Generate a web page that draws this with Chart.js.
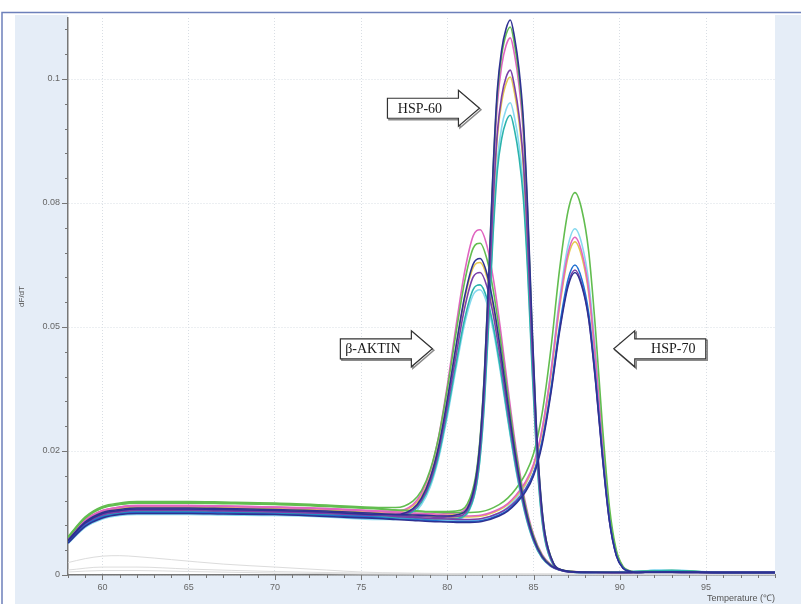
<!DOCTYPE html>
<html>
<head>
<meta charset="utf-8">
<script src="https://cdn.jsdelivr.net/npm/chart.js@4"></script>
<style>
  html, body { margin: 0; padding: 0; background: #fff; }
  canvas { display: block; }
</style>
</head>
<body>
<canvas id="meltChart" width="801" height="604"></canvas>
<script>
// temperatures (°C) sampled for each primer group
const actinT = [58, 59, 60, 61, 62, 63, 65, 67, 70, 73, 76, 77, 78, 78.5, 79, 79.5, 80, 80.5, 81, 81.5, 81.9, 82.3, 82.7, 83.1, 83.5, 84, 84.5, 85, 85.5, 86, 86.5, 87, 88, 90, 93, 96, 99];
const hsp60T = [58, 59, 60, 61, 62, 63, 65, 67, 70, 73, 76, 77, 78, 79, 79.5, 80, 80.5, 81.15, 81.65, 81.9, 82.15, 82.4, 82.65, 82.9, 83.15, 83.4, 83.65, 83.9, 84.15, 84.4, 84.65, 84.9, 85.15, 85.4, 85.65, 86.15, 86.65, 87.15, 88, 90, 93, 96, 99];
const hsp70T = [58, 59, 60, 61, 62, 63, 65, 67, 70, 73, 76, 77, 78, 79, 80, 81, 82, 83, 83.5, 84, 84.5, 85, 85.5, 86, 86.5, 87, 87.4, 87.8, 88.2, 88.6, 89, 89.4, 89.8, 90.2, 90.6, 91, 92, 94, 96, 99];
const ntcT1 = [58, 59, 60, 61, 62, 64, 67, 70, 73, 75, 80, 90, 99];
const ntcT2 = [58, 60, 62, 65, 70, 75, 85, 99];

// beta-actin wells (dF/dT)
const actinPink = [.0073, .0111, .0130, .0137, .0140, .0140, .0140, .0139, .0137, .0134, .0129, .0129, .0142, .0165, .0208, .0280, .0383, .0501, .0611, .0684, .0696, .0663, .0590, .0490, .0380, .0251, .0150, .0081, .0041, .0021, .0011, .0008, .0006, .0005, .0007, .0005, .0005];
const actinGreen = [.0077, .0117, .0138, .0145, .0148, .0148, .0148, .0147, .0145, .0141, .0136, .0136, .0149, .0170, .0211, .0279, .0376, .0487, .0591, .0659, .0669, .0636, .0566, .0470, .0364, .0241, .0144, .0078, .0039, .0020, .0011, .0008, .0006, .0006, .0008, .0005, .0005];
const actinNavy = [.0069, .0105, .0124, .0130, .0133, .0133, .0133, .0132, .0130, .0127, .0122, .0122, .0134, .0155, .0195, .0260, .0354, .0461, .0561, .0627, .0638, .0607, .0540, .0449, .0348, .0230, .0137, .0074, .0037, .0019, .0011, .0007, .0005, .0005, .0006, .0005, .0005];
const actinYellow = [.0072, .0109, .0128, .0135, .0138, .0138, .0138, .0137, .0135, .0132, .0127, .0127, .0139, .0159, .0198, .0262, .0354, .0459, .0556, .0620, .0630, .0600, .0533, .0443, .0343, .0227, .0136, .0074, .0037, .0019, .0011, .0007, .0006, .0005, .0006, .0005, .0005];
const actinPurple = [.0068, .0103, .0121, .0127, .0130, .0130, .0130, .0129, .0127, .0124, .0120, .0120, .0131, .0151, .0188, .0251, .0340, .0442, .0538, .0601, .0610, .0581, .0517, .0429, .0332, .0220, .0131, .0071, .0036, .0018, .0010, .0007, .0005, .0005, .0006, .0005, .0005];
const actinTeal = [.0066, .0100, .0118, .0124, .0127, .0127, .0127, .0126, .0124, .0121, .0117, .0117, .0128, .0147, .0183, .0242, .0328, .0425, .0516, .0576, .0585, .0557, .0495, .0411, .0318, .0211, .0126, .0068, .0034, .0018, .0010, .0007, .0005, .0006, .0009, .0005, .0005];
const actinCyan = [.0063, .0096, .0113, .0120, .0122, .0122, .0122, .0121, .0120, .0117, .0112, .0112, .0123, .0142, .0177, .0236, .0320, .0416, .0506, .0565, .0575, .0547, .0486, .0404, .0313, .0207, .0124, .0067, .0034, .0017, .0010, .0006, .0005, .0005, .0007, .0005, .0005];

// HSP-60 wells
const hsp60Navy = [.0070, .0107, .0126, .0132, .0135, .0135, .0135, .0134, .0132, .0129, .0124, .0122, .0121, .0120, .0119, .0119, .0121, .0134, .0194, .0271, .0406, .0603, .0818, .0979, .1059, .1101, .1119, .1083, .1021, .0922, .0744, .0515, .0309, .0168, .0086, .0024, .0010, .0007, .0006, .0005, .0006, .0005, .0005];
const hsp60Green = [.0075, .0115, .0135, .0142, .0145, .0145, .0145, .0144, .0142, .0138, .0133, .0131, .0130, .0128, .0128, .0128, .0129, .0143, .0201, .0277, .0409, .0602, .0813, .0970, .1048, .1089, .1105, .1069, .1007, .0909, .0733, .0508, .0305, .0166, .0086, .0024, .0010, .0007, .0006, .0006, .0009, .0005, .0005];
const hsp60Pink = [.0073, .0111, .0130, .0137, .0140, .0140, .0140, .0139, .0137, .0134, .0129, .0127, .0125, .0124, .0123, .0124, .0125, .0138, .0195, .0270, .0400, .0589, .0796, .0950, .1027, .1067, .1083, .1048, .0988, .0892, .0719, .0498, .0299, .0163, .0084, .0023, .0010, .0007, .0006, .0005, .0006, .0005, .0005];
const hsp60Purple = [.0069, .0104, .0123, .0129, .0132, .0132, .0132, .0131, .0129, .0126, .0121, .0120, .0118, .0117, .0116, .0117, .0118, .0130, .0184, .0254, .0376, .0554, .0748, .0893, .0965, .1003, .1018, .0984, .0928, .0837, .0675, .0468, .0281, .0153, .0079, .0022, .0009, .0006, .0005, .0005, .0006, .0005, .0005];
const hsp60Yellow = [.0071, .0108, .0127, .0134, .0137, .0137, .0137, .0136, .0134, .0131, .0126, .0124, .0123, .0121, .0121, .0121, .0122, .0134, .0187, .0256, .0376, .0550, .0741, .0883, .0953, .0990, .1004, .0971, .0915, .0826, .0666, .0461, .0277, .0151, .0078, .0022, .0009, .0007, .0006, .0005, .0007, .0005, .0005];
const hsp60Cyan = [.0065, .0099, .0116, .0123, .0125, .0125, .0125, .0124, .0123, .0119, .0115, .0113, .0112, .0111, .0110, .0110, .0112, .0123, .0173, .0239, .0353, .0519, .0701, .0836, .0903, .0938, .0952, .0921, .0868, .0783, .0632, .0438, .0263, .0143, .0074, .0020, .0009, .0006, .0005, .0006, .0010, .0005, .0005];
const hsp60Teal = [.0067, .0101, .0119, .0125, .0128, .0128, .0128, .0127, .0125, .0122, .0118, .0116, .0115, .0113, .0113, .0113, .0114, .0125, .0174, .0237, .0348, .0509, .0685, .0816, .0880, .0914, .0927, .0896, .0844, .0762, .0615, .0426, .0256, .0139, .0072, .0020, .0009, .0006, .0005, .0005, .0007, .0005, .0005];

// HSP-70 wells
const hsp70Green = [.0076, .0115, .0136, .0143, .0146, .0146, .0146, .0145, .0143, .0139, .0134, .0131, .0129, .0127, .0126, .0126, .0128, .0142, .0155, .0175, .0202, .0245, .0327, .0455, .0614, .0734, .0771, .0736, .0651, .0491, .0298, .0137, .0050, .0017, .0008, .0006, .0007, .0006, .0005, .0005];
const hsp70Cyan = [.0067, .0101, .0119, .0125, .0128, .0128, .0128, .0127, .0125, .0122, .0118, .0115, .0113, .0111, .0110, .0110, .0113, .0125, .0137, .0155, .0180, .0219, .0293, .0410, .0555, .0664, .0698, .0667, .0590, .0445, .0270, .0124, .0045, .0015, .0007, .0005, .0010, .0006, .0005, .0005];
const hsp70Pink = [.0072, .0110, .0129, .0136, .0139, .0139, .0139, .0138, .0136, .0133, .0128, .0125, .0123, .0121, .0120, .0119, .0121, .0133, .0144, .0162, .0186, .0224, .0295, .0407, .0545, .0649, .0681, .0650, .0574, .0433, .0262, .0121, .0044, .0015, .0008, .0006, .0006, .0005, .0005, .0005];
const hsp70Yellow = [.0071, .0107, .0126, .0133, .0136, .0136, .0136, .0135, .0133, .0130, .0125, .0122, .0120, .0118, .0117, .0117, .0119, .0131, .0142, .0159, .0182, .0220, .0290, .0401, .0538, .0641, .0672, .0641, .0567, .0427, .0259, .0119, .0043, .0015, .0007, .0005, .0006, .0005, .0005, .0005];
const hsp70Blue = [.0066, .0100, .0117, .0123, .0126, .0126, .0126, .0125, .0123, .0120, .0116, .0113, .0112, .0110, .0108, .0108, .0110, .0121, .0131, .0147, .0169, .0204, .0270, .0373, .0500, .0596, .0625, .0596, .0527, .0397, .0241, .0111, .0040, .0014, .0007, .0005, .0006, .0005, .0005, .0005];
const hsp70Purple = [.0068, .0103, .0122, .0128, .0131, .0131, .0131, .0130, .0128, .0125, .0121, .0118, .0116, .0114, .0113, .0112, .0114, .0125, .0135, .0150, .0172, .0206, .0270, .0370, .0494, .0587, .0615, .0586, .0518, .0390, .0237, .0109, .0040, .0014, .0007, .0005, .0006, .0005, .0005, .0005];
const hsp70Navy = [.0064, .0098, .0115, .0122, .0124, .0124, .0124, .0123, .0122, .0118, .0114, .0112, .0110, .0108, .0107, .0106, .0108, .0119, .0129, .0145, .0166, .0200, .0264, .0365, .0489, .0582, .0610, .0582, .0515, .0388, .0235, .0108, .0039, .0013, .0007, .0005, .0005, .0005, .0005, .0005];

// no-template controls (faint grey)
const ntc1 = [.0025, .0033, .0038, .0039, .0037, .0031, .0022, .0016, .0010, .0006, .0003, .0002, .0002];
const ntc2 = [.0010, .0016, .0016, .0012, .0007, .0004, .0002, .0001];
const ntc3 = [.0006, .0009, .0009, .0007, .0004, .0002, .0001, .0001];

// axis ticks
const xMajor = [60, 65, 70, 75, 80, 85, 90, 95];
const yTickValues = [0, 0.025, 0.05, 0.075, 0.1];
const yTickLabels = ['0', '0.02', '0.05', '0.08', '0.1'];

// arrow callouts, anchored at the arrow tip in data units
const calloutText = ['HSP-60', 'β-AKTIN', 'HSP-70'];
const calloutTipX = [81.86, 79.13, 89.65];
const calloutTipY = [0.0941, 0.0456, 0.0456];
const calloutDir = [1, 1, -1];

const NAVY = '#2e3192', BLUE = '#1f6fd1', PURPLE = '#7b3fa8', TEAL = '#2bb3ad',
      GREEN = '#62bd4f', PINK = '#e065c0', YELLOW = '#e6c84f', CYAN = '#86d9ef', GREY = '#dcdcdc';

// first entry ends up drawn on top
const curves = [
    [actinT, actinNavy, NAVY], [hsp60T, hsp60Navy, NAVY], [hsp70T, hsp70Navy, NAVY],
    [hsp70T, hsp70Blue, BLUE],
    [actinT, actinPurple, PURPLE], [hsp60T, hsp60Purple, PURPLE], [hsp70T, hsp70Purple, PURPLE],
    [actinT, actinTeal, TEAL], [hsp60T, hsp60Teal, TEAL],
    [actinT, actinGreen, GREEN], [hsp60T, hsp60Green, GREEN], [hsp70T, hsp70Green, GREEN],
    [actinT, actinPink, PINK], [hsp60T, hsp60Pink, PINK], [hsp70T, hsp70Pink, PINK],
    [actinT, actinYellow, YELLOW], [hsp60T, hsp60Yellow, YELLOW], [hsp70T, hsp70Yellow, YELLOW],
    [actinT, actinCyan, CYAN], [hsp60T, hsp60Cyan, CYAN], [hsp70T, hsp70Cyan, CYAN],
    [ntcT1, ntc1, GREY], [ntcT2, ntc2, GREY], [ntcT2, ntc3, GREY]
];

const datasets = curves.map(([temps, vals, color]) => ({
    data: temps.map((t, i) => ({ x: t, y: vals[i] })),
    borderColor: color,
    borderWidth: color === GREY ? 1 : 1.6,
    pointRadius: 0,
    fill: false,
    cubicInterpolationMode: 'monotone'
}));

const yMajorIndex = (v) => yTickValues.findIndex(t => Math.abs(t - v) < 1e-6);

// light blue frame behind the white plot area
const framePlugin = {
    id: 'frame',
    beforeDraw(chart) {
        const { ctx, width, height, chartArea: ca } = chart;
        ctx.save();
        ctx.fillStyle = '#fff';
        ctx.fillRect(0, 0, width, height);
        ctx.fillStyle = '#e5edf7';
        ctx.fillRect(15, 15, width - 15, height - 15);
        ctx.fillStyle = '#fff';
        ctx.fillRect(ca.left, 14, ca.right - ca.left, ca.bottom - 14);
        ctx.strokeStyle = '#6d80ba';
        ctx.lineWidth = 1.5;
        ctx.beginPath();
        ctx.moveTo(2, height);
        ctx.lineTo(2, 12.5);
        ctx.lineTo(width, 12.5);
        ctx.stroke();
        ctx.restore();
    }
};

// major / minor tick marks
const tickMarksPlugin = {
    id: 'tickMarks',
    afterDraw(chart) {
        const { ctx, scales: { x, y } } = chart;
        ctx.save();
        ctx.strokeStyle = '#777';
        ctx.lineWidth = 1;
        ctx.beginPath();
        x.ticks.forEach(t => {
            const px = Math.round(x.getPixelForValue(t.value)) + 0.5;
            const len = xMajor.includes(t.value) ? 5 : 3;
            ctx.moveTo(px, x.top);
            ctx.lineTo(px, x.top + len);
        });
        y.ticks.forEach(t => {
            const py = Math.round(y.getPixelForValue(t.value)) + 0.5;
            const len = yMajorIndex(t.value) >= 0 ? 6 : 3;
            ctx.moveTo(y.right - len, py);
            ctx.lineTo(y.right, py);
        });
        ctx.stroke();
        ctx.restore();
    }
};

// block arrows with gene names
const calloutPlugin = {
    id: 'callouts',
    afterDatasetsDraw(chart) {
        const { ctx, scales: { x, y } } = chart;
        ctx.save();
        calloutText.forEach((label, i) => {
            const tx = x.getPixelForValue(calloutTipX[i]);
            const ty = y.getPixelForValue(calloutTipY[i]);
            const d = calloutDir[i];
            const xh = tx - d * 21;
            const xb = tx - d * 92;
            const hb = 10, hh = 18;
            const shape = (ox, oy) => {
                ctx.beginPath();
                ctx.moveTo(xb + ox, ty - hb + oy);
                ctx.lineTo(xh + ox, ty - hb + oy);
                ctx.lineTo(xh + ox, ty - hh + oy);
                ctx.lineTo(tx + ox, ty + oy);
                ctx.lineTo(xh + ox, ty + hh + oy);
                ctx.lineTo(xh + ox, ty + hb + oy);
                ctx.lineTo(xb + ox, ty + hb + oy);
                ctx.closePath();
            };
            shape(1.5, 1.5);
            ctx.strokeStyle = '#8a8a8a';
            ctx.lineWidth = 1.5;
            ctx.stroke();
            shape(0, 0);
            ctx.fillStyle = '#fff';
            ctx.fill();
            ctx.strokeStyle = '#333';
            ctx.lineWidth = 1.2;
            ctx.stroke();
            ctx.fillStyle = '#1a1a1a';
            ctx.font = "14px 'Liberation Serif', 'Times New Roman', serif";
            ctx.textAlign = 'center';
            ctx.textBaseline = 'middle';
            ctx.fillText(label, (xb + xh) / 2 - d * 3, ty + 1);
        });
        ctx.restore();
    }
};

document.addEventListener('DOMContentLoaded', () => {
    const ctx = document.getElementById('meltChart').getContext('2d');
    Chart.defaults.font.family = "'Liberation Sans', Arial, sans-serif";
    Chart.defaults.font.size = 9;
    Chart.defaults.color = '#666';

    new Chart(ctx, {
        type: 'line',
        data: { datasets },
        options: {
            responsive: false,
            animation: false,
            layout: { padding: { left: 15, right: 26, top: 18, bottom: 0 } },
            plugins: {
                legend: { display: false },
                tooltip: { enabled: false }
            },
            scales: {
                x: {
                    type: 'linear',
                    min: 58,
                    max: 99,
                    bounds: 'data',
                    afterFit: (s) => { s.height = 29; },
                    ticks: {
                        stepSize: 1,
                        autoSkip: false,
                        includeBounds: false,
                        maxRotation: 0,
                        padding: 7,
                        callback: (v) => xMajor.includes(v) ? String(v) : ''
                    },
                    grid: {
                        drawTicks: false,
                        color: (c) => (c.tick && xMajor.includes(c.tick.value)) ? '#d9dee4' : 'rgba(0,0,0,0)',
                        lineWidth: 1
                    },
                    border: { display: true, color: '#777', width: 1.5, dash: [1, 2] },
                    title: {
                        display: true,
                        text: 'Temperature (℃)',
                        align: 'end',
                        color: '#555',
                        font: { size: 9 },
                        padding: { top: 0, bottom: 0 }
                    }
                },
                y: {
                    min: 0,
                    max: 0.1123,
                    bounds: 'data',
                    afterFit: (s) => { s.width = 53; },
                    ticks: {
                        stepSize: 0.005,
                        autoSkip: false,
                        includeBounds: false,
                        padding: 8,
                        callback: (v) => {
                            const k = yMajorIndex(v);
                            return k >= 0 ? yTickLabels[k] : '';
                        }
                    },
                    grid: {
                        drawTicks: false,
                        color: (c) => (c.tick && yMajorIndex(c.tick.value) >= 0) ? '#d9dee4' : 'rgba(0,0,0,0)',
                        lineWidth: 1
                    },
                    border: { display: true, color: '#777', width: 1.5, dash: [1, 2] },
                    title: {
                        display: true,
                        text: 'dF/dT',
                        color: '#555',
                        font: { size: 8 },
                        padding: { top: 2, bottom: 0 }
                    }
                }
            }
        },
        plugins: [framePlugin, tickMarksPlugin, calloutPlugin]
    });
});
</script>
</body>
</html>
